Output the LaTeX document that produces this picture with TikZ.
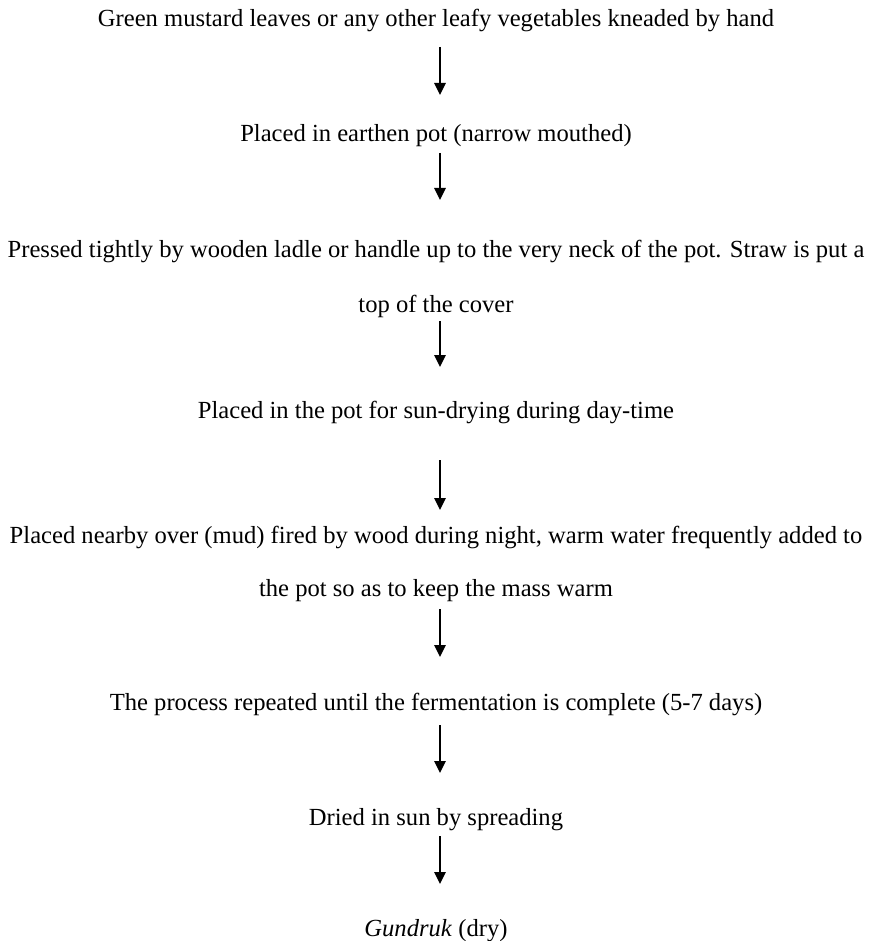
\documentclass[tikz,border=0pt]{standalone}
\usepackage{fontspec}
\setmainfont{Liberation Serif}
\usetikzlibrary{arrows.meta}
\begin{document}
\begin{tikzpicture}[x=1pt,y=-1pt,
  txt/.style={font=\fontsize{24.6}{30}\selectfont, inner sep=0pt, anchor=base},
  arr/.style={line width=1.7pt, -{Triangle[length=12pt,width=11.5pt]}}]
\useasboundingbox (0,0) rectangle (869,941);
\node[txt] (n1) at (436,27) {Green mustard leaves or any other leafy vegetables kneaded by hand};
\node[txt] (n2) at (436,142) {Placed in earthen pot (narrow mouthed)};
\node[txt] (n3) at (436,257) {Pressed tightly by wooden ladle or handle up to the very neck of the pot. Straw is put a};
\node[txt] (n3b) at (436,312) {top of the cover};
\node[txt] (n4) at (436,418) {Placed in the pot for sun-drying during day-time};
\node[txt] (n5) at (436,543) {Placed nearby over (mud) fired by wood during night, warm water frequently added to};
\node[txt] (n5b) at (436,596) {the pot so as to keep the mass warm};
\node[txt] (n6) at (436,710) {The process repeated until the fermentation is complete (5-7 days)};
\node[txt] (n7) at (436,825) {Dried in sun by spreading};
\node[txt] (n8) at (436,936) {\textit{Gundruk} (dry)};
\coordinate (a1t) at (440,47);  \coordinate (a1b) at (440,95);
\coordinate (a2t) at (440,153); \coordinate (a2b) at (440,200);
\coordinate (a3t) at (440,321); \coordinate (a3b) at (440,367);
\coordinate (a4t) at (440,460); \coordinate (a4b) at (440,510);
\coordinate (a5t) at (440,609); \coordinate (a5b) at (440,657);
\coordinate (a6t) at (440,725); \coordinate (a6b) at (440,773);
\coordinate (a7t) at (440,836); \coordinate (a7b) at (440,884);
\draw[arr] (a1t) -- (a1b);
\draw[arr] (a2t) -- (a2b);
\draw[arr] (a3t) -- (a3b);
\draw[arr] (a4t) -- (a4b);
\draw[arr] (a5t) -- (a5b);
\draw[arr] (a6t) -- (a6b);
\draw[arr] (a7t) -- (a7b);
\end{tikzpicture}
\end{document}
